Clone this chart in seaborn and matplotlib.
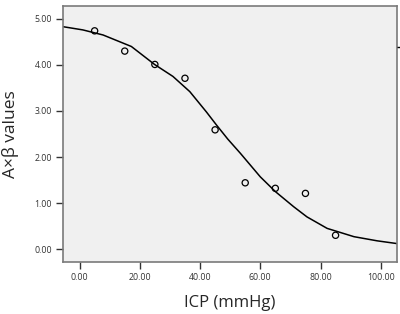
import numpy as np
import pandas as pd
import matplotlib
matplotlib.use("Agg")
import matplotlib.pyplot as plt
import seaborn as sns

# observed points
icp = [5, 15, 25, 35, 45, 55, 65, 75, 85]
axb = [4.74, 4.30, 4.01, 3.71, 2.59, 1.44, 1.32, 1.21, 0.30]

# fitted curve
fit_x = [-5.5, 1.1, 7.8, 17.2, 24.9, 31.0, 36.6, 42.1, 45.4, 49.2,
         53.4, 60.0, 65.0, 71.1, 75.5, 82.2, 91.1, 98.8, 105.4]
fit_y = [4.83, 4.76, 4.65, 4.40, 4.01, 3.75, 3.42, 2.98, 2.70, 2.39,
         2.08, 1.57, 1.25, 0.92, 0.70, 0.45, 0.27, 0.18, 0.12]

x_ticks = [0, 20, 40, 60, 80, 100]
y_ticks = [0, 1, 2, 3, 4, 5]

pts = pd.DataFrame({"icp": icp, "axb": axb})
fit = pd.DataFrame({"icp": fit_x, "axb": fit_y})

sns.set_style("white")
plt.rcParams["font.family"] = ["Open Sans", "DejaVu Sans"]

fig = plt.figure(figsize=(4.0, 3.14), dpi=100)
ax = fig.add_axes([0.1575, 0.1656, 0.835, 0.8154])
ax.set_facecolor("#f0f0f0")

sns.lineplot(data=fit, x="icp", y="axb", ax=ax, color="black", lw=1.1,
             sort=False, estimator=None)
sns.scatterplot(data=pts, x="icp", y="axb", ax=ax, marker="o", s=20,
                facecolor="none", edgecolor="black", linewidth=0.9, zorder=3)

ax.set_xlim(-5.5, 105.4)
ax.set_ylim(-0.28, 5.28)
ax.set_xticks(x_ticks)
ax.set_yticks(y_ticks)
ax.set_xticklabels([f"{v:.2f}" for v in x_ticks])
ax.set_yticklabels([f"{v:.2f}" for v in y_ticks])
ax.tick_params(axis="both", direction="out", length=5, width=1, color="#333333",
               labelsize=6.3, labelcolor="#333333", pad=3)
ax.tick_params(left=True, bottom=True)

for side in ["left", "bottom", "top", "right"]:
    ax.spines[side].set_color("#7a7a7a")
    ax.spines[side].set_linewidth(1.2)

ax.set_xlabel("ICP (mmHg)", fontsize=12, labelpad=9)
ax.set_ylabel("A×β values", fontsize=12.5, labelpad=11)

# stray tick on the right edge
ax2 = ax.twinx()
ax2.set_ylim(ax.get_ylim())
ax2.set_yticks([4.39])
ax2.set_yticklabels([""])
ax2.tick_params(axis="y", direction="out", length=5, width=1, color="black")
for side in ["left", "bottom", "top", "right"]:
    ax2.spines[side].set_visible(False)

fig.savefig("out.png", dpi=100)
